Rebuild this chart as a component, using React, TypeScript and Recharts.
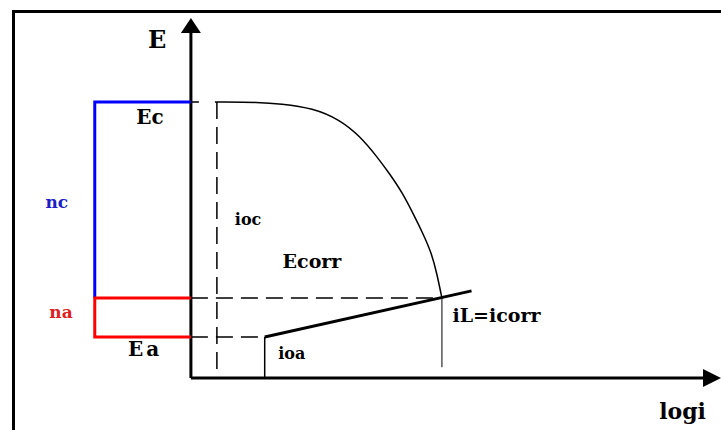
import React from 'react';
import { LineChart, Line, XAxis, YAxis, ReferenceLine, ReferenceDot } from 'recharts';

// potentials (E) and currents (log i) of the Evans diagram
const E_C = 7.67;
const E_CORR = 2.22;
const E_A = 1.14;
const I_OC = 0.5;
const I_OA = 1.42;
const I_CORR = 4.83;
const BRACKET_X = -1.85;

// cathodic polarisation curve, flat at Ec then falling to the limiting current
const cathodicLogI = [0.5, 1.33, 1.71, 2.35, 2.87, 3.25, 3.58, 3.83, 4.08, 4.27, 4.46, 4.63, 4.73, 4.83];
const cathodicE = [7.67, 7.66, 7.62, 7.5, 7.17, 6.72, 6.15, 5.66, 5.12, 4.58, 4.03, 3.47, 2.92, 2.22];

// anodic Tafel line
const anodicLogI = [1.42, 5.4];
const anodicE = [1.14, 2.42];

const cathodic = cathodicLogI.map((x, i) => ({ x, E: cathodicE[i] }));
const anodic = anodicLogI.map((x, i) => ({ x, E: anodicE[i] }));
const etaC = [
  { x: 0, E: E_C },
  { x: BRACKET_X, E: E_C },
  { x: BRACKET_X, E: E_CORR },
];
const etaA = [
  { x: 0, E: E_CORR },
  { x: BRACKET_X, E: E_CORR },
  { x: BRACKET_X, E: E_A },
  { x: 0, E: E_A },
];

const FONT = '"DejaVu Serif", serif';

type Tag = { text: string; x: number; y: number; size: number; color?: string; spacing?: number };
const tags: Tag[] = [
  { text: 'E', x: -0.65, y: 9.39, size: 24 },
  { text: 'Ec', x: -0.79, y: 7.25, size: 20 },
  { text: 'nc', x: -2.58, y: 4.89, size: 17, color: '#1c1cc8' },
  { text: 'na', x: -2.5, y: 1.83, size: 17, color: '#e02020' },
  { text: 'Ea', x: -0.88, y: 0.8, size: 20, spacing: 3 },
  { text: 'ioc', x: 1.1, y: 4.39, size: 16 },
  { text: 'Ecorr', x: 2.33, y: 3.25, size: 19 },
  { text: 'ioa', x: 1.94, y: 0.69, size: 16 },
  { text: 'iL=icorr', x: 5.88, y: 1.75, size: 19 },
  { text: 'logi', x: 9.46, y: -0.92, size: 22 },
];

const dash = '17 8';

export default function App() {
  return (
    <div style={{ position: 'absolute', left: 0, top: 0, width: 721, height: 430, overflow: 'hidden', background: '#fff' }}>
      <div
        style={{
          position: 'absolute',
          left: 12,
          top: 10,
          width: 800,
          height: 500,
          border: '3px solid #000',
        }}
      />
      <LineChart
        width={721}
        height={430}
        margin={{ top: 18, right: 0, bottom: 52, left: 35 }}
        style={{ position: 'absolute', left: 0, top: 0 }}
      >
        <XAxis type="number" dataKey="x" domain={[-3, 10.2]} hide allowDataOverflow />
        <YAxis type="number" dataKey="E" domain={[0, 10]} hide width={0} allowDataOverflow />

        {/* axes */}
        <ReferenceLine segment={[{ x: 0, y: 0 }, { x: 0, y: 9.6 }]} stroke="#000" strokeWidth={3} ifOverflow="visible" />
        <ReferenceLine segment={[{ x: 0, y: 0 }, { x: 9.9, y: 0 }]} stroke="#000" strokeWidth={3} ifOverflow="visible" />
        <ReferenceDot
          x={0}
          y={10}
          ifOverflow="visible"
          shape={(p: any) => (
            <polygon points={`${p.cx},${p.cy} ${p.cx - 10},${p.cy + 15} ${p.cx + 10},${p.cy + 15}`} fill="#000" />
          )}
        />
        <ReferenceDot
          x={10.2}
          y={0}
          ifOverflow="visible"
          shape={(p: any) => (
            <polygon points={`${p.cx},${p.cy} ${p.cx - 18},${p.cy - 9} ${p.cx - 18},${p.cy + 9}`} fill="#000" />
          )}
        />

        {/* construction lines */}
        <ReferenceLine segment={[{ x: 0, y: E_C }, { x: I_OC, y: E_C }]} stroke="#000" strokeWidth={1.5} strokeDasharray="8 16" ifOverflow="visible" />
        <ReferenceLine segment={[{ x: I_OC, y: E_C }, { x: I_OC, y: 0 }]} stroke="#000" strokeWidth={1.5} strokeDasharray={dash} ifOverflow="visible" />
        <ReferenceLine segment={[{ x: 0, y: E_CORR }, { x: I_CORR, y: E_CORR }]} stroke="#000" strokeWidth={1.5} strokeDasharray={dash} ifOverflow="visible" />
        <ReferenceLine segment={[{ x: 0, y: E_A }, { x: I_OA, y: E_A }]} stroke="#000" strokeWidth={1.5} strokeDasharray={dash} ifOverflow="visible" />
        <ReferenceLine segment={[{ x: I_CORR, y: E_CORR }, { x: I_CORR, y: 0.3 }]} stroke="#000" strokeWidth={1} ifOverflow="visible" />
        <ReferenceLine segment={[{ x: I_OA, y: E_A }, { x: I_OA, y: 0 }]} stroke="#000" strokeWidth={1.5} ifOverflow="visible" />

        {/* overpotential brackets */}
        <Line data={etaC} dataKey="E" type="linear" stroke="#0000ff" strokeWidth={3} dot={false} isAnimationActive={false} />
        <Line data={etaA} dataKey="E" type="linear" stroke="#ff0000" strokeWidth={3} dot={false} isAnimationActive={false} />

        {/* polarisation curves */}
        <Line data={cathodic} dataKey="E" type="basis" stroke="#000" strokeWidth={1.5} dot={false} isAnimationActive={false} />
        <Line data={anodic} dataKey="E" type="linear" stroke="#000" strokeWidth={3} dot={false} isAnimationActive={false} />

        {tags.map((t) => (
          <ReferenceDot
            key={t.text}
            x={t.x}
            y={t.y}
            ifOverflow="visible"
            shape={(p: any) => (
              <text
                x={p.cx}
                y={p.cy}
                textAnchor="middle"
                dominantBaseline="central"
                fontFamily={FONT}
                fontWeight="bold"
                fontSize={t.size}
                letterSpacing={t.spacing ?? 0}
                fill={t.color ?? '#000'}
              >
                {t.text}
              </text>
            )}
          />
        ))}
      </LineChart>
    </div>
  );
}
